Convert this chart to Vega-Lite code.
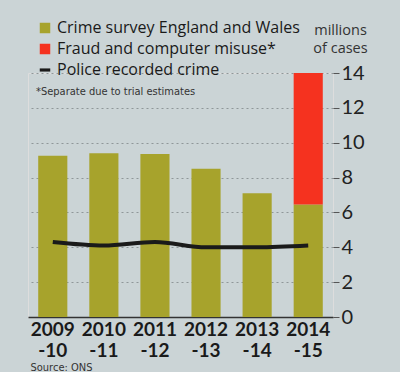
{
  "$schema": "https://vega.github.io/schema/vega-lite/v6.json",
  "autosize": "none",
  "width": 305,
  "height": 244,
  "padding": {"left": 28, "top": 73, "right": 67, "bottom": 55},
  "background": "#cbd4d6",
  "title": {
    "text": "*Separate due to trial estimates",
    "anchor": "start",
    "frame": "group",
    "orient": "top",
    "offset": -19,
    "dx": 8,
    "dy": 58,
    "font": "DejaVu Sans Condensed, Liberation Sans Narrow, Lato",
    "fontSize": 11,
    "fontWeight": "normal",
    "color": "#333333"
  },
  "datasets": {
    "bars": [
      {"year": "2009|-10", "series": "Crime survey England and Wales", "value": 9.25},
      {"year": "2010|-11", "series": "Crime survey England and Wales", "value": 9.4},
      {"year": "2011|-12", "series": "Crime survey England and Wales", "value": 9.35},
      {"year": "2012|-13", "series": "Crime survey England and Wales", "value": 8.5},
      {"year": "2013|-14", "series": "Crime survey England and Wales", "value": 7.1},
      {"year": "2014|-15", "series": "Crime survey England and Wales", "value": 6.45},
      {"year": "2014|-15", "series": "Fraud and computer misuse*", "value": 7.55}
    ],
    "police": [
      {"year": "2009|-10", "value": 4.3},
      {"year": "2010|-11", "value": 4.1},
      {"year": "2011|-12", "value": 4.3},
      {"year": "2012|-13", "value": 4.0},
      {"year": "2013|-14", "value": 4.0},
      {"year": "2014|-15", "value": 4.1}
    ]
  },
  "encoding": {
    "x": {
      "field": "year",
      "type": "nominal",
      "sort": null,
      "scale": {"paddingInner": 0.43, "paddingOuter": 0.2},
      "axis": {
        "title": "Source: ONS",
        "titleAnchor": "start",
        "titleAlign": "left",
        "titleX": 2,
        "titleY": 53,
        "titleBaseline": "alphabetic",
        "titleFont": "DejaVu Sans Condensed, Liberation Sans Narrow, Lato",
        "titleFontSize": 11,
        "titleFontWeight": "normal",
        "titleColor": "#333333",
        "labelAngle": 0,
        "labelExpr": "split(datum.value, '|')",
        "labelFont": "Lato",
        "labelFontSize": 19,
        "labelFontWeight": "bold",
        "labelColor": "#1a1a1a",
        "labelLineHeight": 21,
        "labelPadding": 3,
        "ticks": false,
        "domainColor": "#333333",
        "domainWidth": 1.5,
        "grid": false
      }
    },
    "y": {
      "field": "value",
      "type": "quantitative",
      "scale": {"domain": [0, 14]},
      "axis": {
        "orient": "right",
        "values": [0, 2, 4, 6, 8, 10, 12, 14],
        "labelOverlap": false,
        "title": ["millions", "of cases"],
        "titleAngle": 0,
        "titleX": 7,
        "titleY": -50,
        "titleAlign": "center",
        "titleBaseline": "top",
        "titleFont": "Open Sans",
        "titleFontSize": 14.5,
        "titleFontWeight": "normal",
        "titleColor": "#333333",
        "titleLineHeight": 18,
        "domain": false,
        "tickSize": 6,
        "tickColor": "#555555",
        "labelPadding": 2,
        "labelFont": "Lato",
        "labelFontSize": 20,
        "labelColor": "#222222",
        "grid": true,
        "gridColor": "#8f9799",
        "gridDash": [2, 3],
        "gridWidth": 1
      }
    }
  },
  "layer": [
    {
      "data": {"name": "bars"},
      "mark": {"type": "bar"},
      "encoding": {
        "order": {"field": "series", "sort": "ascending"},
        "color": {
          "field": "series",
          "type": "nominal",
          "scale": {
            "domain": ["Crime survey England and Wales", "Fraud and computer misuse*", "Police recorded crime"],
            "range": ["#a7a32c", "#f5321f", "#1a1a1a"]
          },
          "legend": {
            "orient": "none",
            "legendX": 9,
            "legendY": -53,
            "title": null,
            "symbolType": "square",
            "symbolSize": 110,
            "symbolStrokeWidth": 0,
            "rowPadding": 5,
            "labelFont": "Open Sans",
            "labelFontSize": 16,
            "labelColor": "#1a1a1a",
            "labelOffset": 4,
            "labelLimit": 400,
            "encode": {
              "symbols": {
                "update": {
                  "shape": {"signal": "datum.label === 'Police recorded crime' ? 'M-1,-0.3H1V0.3H-1Z' : 'square'"}
                }
              }
            }
          }
        }
      }
    },
    {
      "data": {"name": "police"},
      "mark": {"type": "line", "color": "#1a1a1a", "strokeWidth": 4, "interpolate": "monotone"}
    }
  ]
}
